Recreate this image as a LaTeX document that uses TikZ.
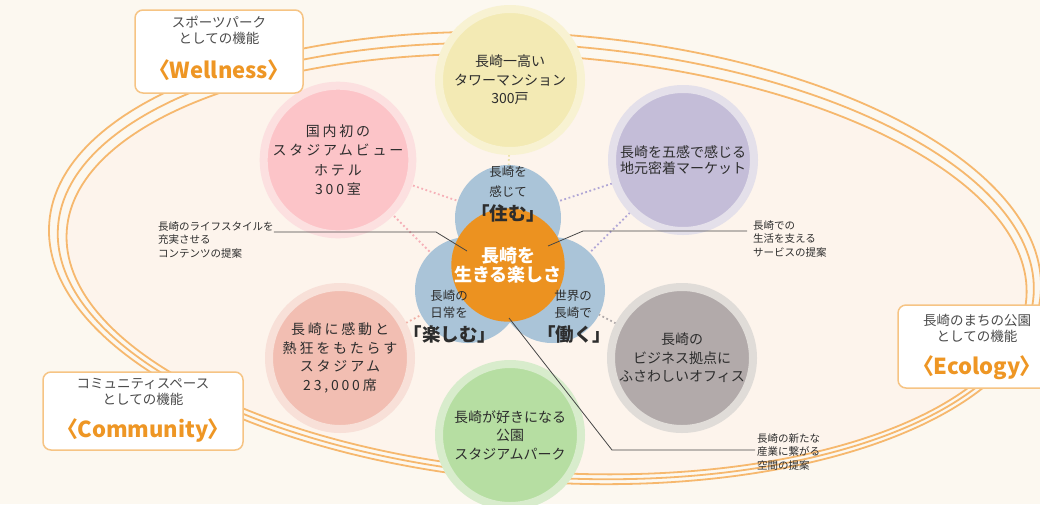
\documentclass[tikz,border=0pt]{standalone}
\usepackage{fontspec}
\setmainfont{Noto Sans CJK JP}
\usepackage{tikz}
\usepackage{xcolor}

\definecolor{bgcream}{RGB}{252,248,240}
\definecolor{incream}{RGB}{253,244,236}
\definecolor{ringorange}{RGB}{246,184,110}
\definecolor{boxorange}{RGB}{246,196,132}
\definecolor{wordorange}{RGB}{238,150,36}
\definecolor{midorange}{RGB}{236,146,32}
\definecolor{bluefill}{RGB}{170,196,216}
\definecolor{bluedark}{RGB}{122,160,198}
\definecolor{txtdark}{RGB}{45,45,45}
\definecolor{txtgray}{RGB}{75,75,75}
\definecolor{linegray}{RGB}{70,70,70}
\definecolor{yelfill}{RGB}{243,234,180}
\definecolor{yelring}{RGB}{248,242,210}
\definecolor{yeldot}{RGB}{236,226,170}
\definecolor{pinkfill}{RGB}{252,196,200}
\definecolor{pinkring}{RGB}{252,224,224}
\definecolor{pinkdot}{RGB}{246,176,184}
\definecolor{purpfill}{RGB}{196,189,216}
\definecolor{purpring}{RGB}{228,224,234}
\definecolor{purpdot}{RGB}{176,166,214}
\definecolor{salmfill}{RGB}{242,190,178}
\definecolor{salmring}{RGB}{248,224,216}
\definecolor{salmdot}{RGB}{240,174,164}
\definecolor{grayfill}{RGB}{178,170,170}
\definecolor{grayring}{RGB}{224,220,216}
\definecolor{graydot}{RGB}{176,170,170}
\definecolor{grenfill}{RGB}{182,222,162}
\definecolor{grenring}{RGB}{216,236,204}

\begin{document}
\begin{tikzpicture}[x=1pt,y=-1pt,
  spot/.style={circle,fill=#1fill,draw=#1ring,line width=8pt,minimum size=142pt,inner sep=0pt,
    align=center,text=txtdark,font=\fontsize{14}{18.5}\selectfont},
  link/.style={draw=#1dot,line width=1.8pt,dash pattern=on 1.8pt off 2.6pt},
  trefoil/.style={circle,fill=bluefill,minimum size=106pt,inner sep=0pt},
  smalltext/.style={align=center,text=txtdark,font=\fontsize{12.5}{17}\selectfont},
  bigword/.style={text=txtdark,font=\fontsize{18.5}{20}\selectfont\bfseries},
  rolebox/.style={draw=boxorange,line width=1.5pt,fill=white,rounded corners=8pt},
  roletext/.style={align=center,text=txtgray,font=\fontsize{13.5}{16}\selectfont},
  roleword/.style={text=wordorange,font=\fontsize{22}{24}\selectfont\bfseries\addfontfeatures{RawFeature=+palt}},
  note/.style={anchor=north west,align=left,inner sep=0pt,text=txtdark,font=\fontsize{10.5}{13.5}\selectfont},
  callout/.style={draw=linegray,line width=0.8pt}]
\useasboundingbox (0,0) rectangle (1040,504);
\clip (0,0) rectangle (1040,504);
\fill[bgcream] (0,0) rectangle (1040,504);

% ellipse rings
\begin{scope}[rotate around={-4:(545,258)}]
\fill[incream] (547,264) ellipse [x radius=481, y radius=208];
\foreach \cx/\cy/\rx/\ry in {545/258/497/224,546/261/489/216,547/264/481/208}
  \draw[ringorange,line width=1.8pt] (\cx,\cy) ellipse [x radius=\rx, y radius=\ry];
\end{scope}

% centres
\coordinate (yelc) at (510,80);
\coordinate (pinkc) at (338,160);
\coordinate (purpc) at (683,160);
\coordinate (salmc) at (340,358);
\coordinate (grayc) at (682,358);
\coordinate (grenc) at (510,435);
\coordinate (topc) at (508,218);
\coordinate (leftc) at (468,290);
\coordinate (rightc) at (552,290);
\coordinate (midc) at (508,265);

% dotted links
\draw[link=yel] (yelc) -- (topc);
\draw[link=pink] (pinkc) -- (topc);
\draw[link=pink] (pinkc) -- (leftc);
\draw[link=purp] (purpc) -- (topc);
\draw[link=purp] (purpc) -- (rightc);
\draw[link=salm] (salmc) -- (leftc);
\draw[link=gray] (grayc) -- (rightc);

% outer circles
\node (tower) [spot=yel] at (yelc) {長崎一高い\\タワーマンション\\300戸};
\node (hotel) [spot=pink,font=\fontsize{14}{19.5}\selectfont\addfontfeatures{LetterSpace=20}] at (pinkc) {国内初の\\スタジアムビュー\\ホテル\\300室};
\node (market) [spot=purp,font=\fontsize{14}{16}\selectfont] at (purpc) {長崎を五感で感じる\\地元密着マーケット};
\node (stadium) [spot=salm,font=\fontsize{14}{18.5}\selectfont\addfontfeatures{LetterSpace=20}] at (salmc) {長崎に感動と\\熱狂をもたらす\\スタジアム\\23,000席};
\node (office) [spot=gray] at (grayc) {長崎の\\ビジネス拠点に\\ふさわしいオフィス};
\node (park) [spot=gren] at (grenc) {長崎が好きになる\\公園\\スタジアムパーク};

% three blue circles
\node (live) [trefoil] at (topc) {};
\node (enjoy) [trefoil] at (leftc) {};
\node (work) [trefoil] at (rightc) {};
\begin{scope}
\clip (topc) circle [radius=53];
\fill[bluedark] (leftc) circle [radius=53];
\fill[bluedark] (rightc) circle [radius=53];
\end{scope}
\begin{scope}
\clip (leftc) circle [radius=53];
\fill[bluedark] (rightc) circle [radius=53];
\end{scope}
\node (core) [circle,fill=midorange,minimum size=80pt,inner sep=0pt,align=center,text=white,
  font=\fontsize{18}{19}\selectfont\bfseries] at (midc) {長崎を\\生きる楽しさ};

\node (livesub) [smalltext,font=\fontsize{12.5}{20}\selectfont] at (508,182) {長崎を\\感じて};
\node (liveword) [bigword] at (508,213) {「住む」};
\node (enjoysub) [smalltext] at (449,304.5) {長崎の\\日常を};
\node (enjoyword) [bigword] at (450,334) {「楽しむ」};
\node (worksub) [smalltext] at (573,304.5) {世界の\\長崎で};
\node (workword) [bigword] at (574,334) {「働く」};

% callouts
\node (lifenote) [note] at (158,221) {長崎のライフスタイルを\\充実させる\\コンテンツの提案};
\node (servnote) [note] at (753,220) {長崎での\\生活を支える\\サービスの提案};
\node (indnote) [note] at (757,433) {長崎の新たな\\産業に繋がる\\空間の提案};
\coordinate (lifebend) at (436,232);
\coordinate (lifetip) at (467,251);
\coordinate (servbend) at (583,231);
\coordinate (servtip) at (548,246);
\coordinate (indbend) at (612,450);
\coordinate (indtip) at (509,318);
\draw[callout] (lifenote.north east |- lifebend) -- (lifebend) -- (lifetip);
\draw[callout,shorten <=6pt] (servnote.west |- servbend) -- (servbend) -- (servtip);
\draw[callout,shorten <=2pt] (indnote.west |- indbend) -- (indbend) -- (indtip);

% role boxes
\node (wellbox) [rolebox,minimum width=168pt,minimum height=83pt] at (219,51.5) {};
\node (wellhead) [roletext] at (219,30) {スポーツパーク\\としての機能};
\node (wellword) [roleword] at (219,70) {〈Wellness〉};
\node (ecobox) [rolebox,minimum width=158pt,minimum height=83pt] at (977,346.5) {};
\node (ecohead) [roletext] at (977,328.5) {長崎のまちの公園\\としての機能};
\node (ecoword) [roleword] at (977,368) {〈Ecology〉};
\node (combox) [rolebox,minimum width=200pt,minimum height=78pt] at (143,411) {};
\node (comhead) [roletext] at (143,391.5) {コミュニティスペース\\としての機能};
\node (comword) [roleword] at (143,430) {〈Community〉};
\end{tikzpicture}
\end{document}
